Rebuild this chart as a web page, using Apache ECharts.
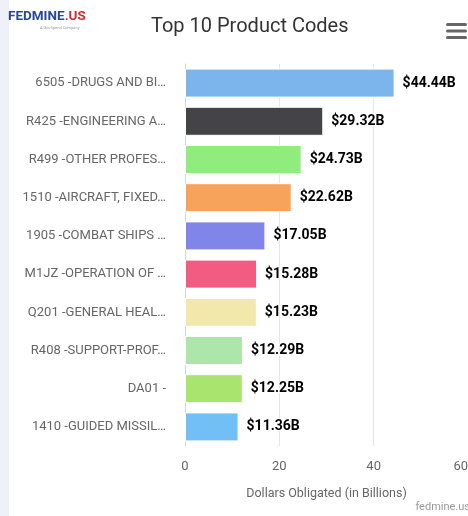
<!DOCTYPE html>
<html>
<head>
<meta charset="utf-8">
<script src="https://cdn.jsdelivr.net/npm/echarts@6/dist/echarts.min.js"></script>
<style>
html,body{margin:0;padding:0;background:#fff;}
#c{width:468px;height:516px;}
</style>
</head>
<body>
<div id="c"></div>
<script>
const categories = [
  "6505 -DRUGS AND BI\u2026",
  "R425 -ENGINEERING A\u2026",
  "R499 -OTHER PROFES\u2026",
  "1510 -AIRCRAFT, FIXED\u2026",
  "1905 -COMBAT SHIPS \u2026",
  "M1JZ -OPERATION OF \u2026",
  "Q201 -GENERAL HEAL\u2026",
  "R408 -SUPPORT-PROF\u2026",
  "DA01 -",
  "1410 -GUIDED MISSIL\u2026"
];
const values = [44.44, 29.32, 24.73, 22.62, 17.05, 15.28, 15.23, 12.29, 12.25, 11.36];
const barColors = ["#7cb5ec","#434348","#90ed7d","#f7a35c","#8085e9","#f35c82","#f2e8ac","#ace6aa","#a8e46e","#72bff6"];
const xTicks = [0, 20, 40, 60];

const chart = echarts.init(document.getElementById('c'), null, {renderer:'canvas'});
const FONT = 'Roboto, "Noto Sans", sans-serif';
chart.setOption({
  animation: false,
  backgroundColor: '#fff',
  title: {
    text: 'Top 10 Product Codes',
    left: 146, top: 12,
    textStyle: {fontFamily: FONT, fontSize: 20, fontWeight: 'normal', color: '#333'}
  },
  grid: {left: 185, right: 0, top: 64, height: 382, containLabel: false, outerBoundsMode: 'none'},
  xAxis: {
    type: 'value', min: 0, max: 60, interval: 20,
    axisLine: {show: false}, axisTick: {show: false},
    splitLine: {lineStyle: {color: '#e6e6e6', width: 1}},
    axisLabel: {color: '#666', fontSize: 13, fontFamily: FONT, margin: 14, alignMaxLabel: 'right',
      formatter: v => xTicks.includes(v) ? String(v) : ''},
    name: 'Dollars Obligated (in Billions)', nameLocation: 'middle', nameGap: 41,
    nameTextStyle: {color: '#666', fontSize: 12.5, fontFamily: FONT}
  },
  yAxis: {
    type: 'category', data: categories, inverse: true,
    axisLine: {lineStyle: {color: '#ccd6eb'}},
    axisTick: {length: 12, lineStyle: {color: '#ccd6eb'}},
    axisLabel: {color: '#666', fontSize: 13, fontFamily: FONT, margin: 19},
    splitLine: {show: false}
  },
  series: [{
    type: 'bar', barWidth: 29,
    data: values.map((v, i) => ({value: v, itemStyle: {color: barColors[i]}})),
    itemStyle: {borderColor: '#fff', borderWidth: 1},
    label: {
      show: true, position: 'right', distance: 8,
      formatter: p => '$' + p.value.toFixed(2) + 'B',
      color: '#000', fontWeight: 'bold', fontSize: 14, fontFamily: FONT,
      textBorderColor: '#fff', textBorderWidth: 2
    }
  }],
  graphic: [
    {type: 'rect', shape: {x: 0, y: 0, width: 9, height: 516}, style: {fill: '#eef2f8'}, silent: true},
    {type: 'text', left: 8, top: 10, style: {
      text: '{a|FEDMINE}{b|.US}',
      rich: {
        a: {fill: '#27479a', fontWeight: 'bold', fontSize: 13.5, fontFamily: FONT},
        b: {fill: '#d52b32', fontWeight: 'bold', fontSize: 13.5, fontFamily: FONT}
      }
    }},
    {type: 'text', left: 40, top: 26, style: {text: 'A GovSpend Company', fill: '#999', font: '4px ' + FONT}},
    {type: 'rect', shape: {x: 446, y: 23, width: 21, height: 3, r: 1.5}, style: {fill: '#666'}},
    {type: 'rect', shape: {x: 446, y: 29.5, width: 21, height: 3, r: 1.5}, style: {fill: '#666'}},
    {type: 'rect', shape: {x: 446, y: 36, width: 21, height: 3, r: 1.5}, style: {fill: '#666'}},
    {type: 'text', right: -2, top: 502, style: {text: 'fedmine.us', fill: '#999', font: '11px ' + FONT}}
  ]
});
</script>
</body>
</html>
